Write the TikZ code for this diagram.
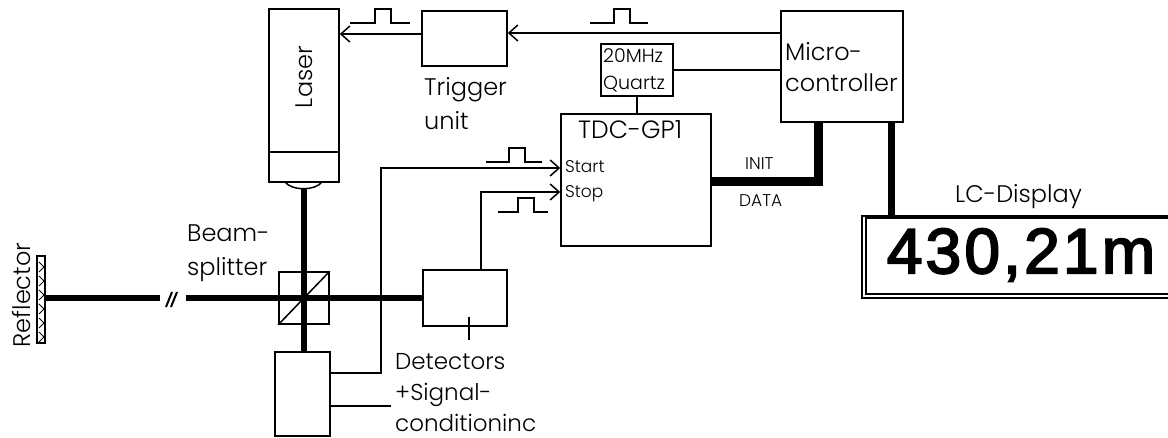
\documentclass[tikz,border=0pt]{standalone}
\usepackage{fontspec}
\setmainfont[UprightFont=* Light]{Poppins}
\newfontfamily\dispfont[LetterSpace=5,FakeBold=3]{Liberation Sans}
\usetikzlibrary{arrows.meta}
\tikzset{
	x=1pt,y=-1pt,
	>={Straight Barb[length=9pt,width=16pt,line width=1.5pt]},
	thin line/.style={line width=1.5pt},
	beam/.style={line width=5.5pt},
	bus/.style={line width=9pt},
	box/.style={draw,line width=1.5pt,inner sep=0pt},
	caption/.style={inner sep=0pt,align=left,anchor=west,font=\fontsize{24}{34}\selectfont},
	pulse/.pic={\draw[thin line] (-#1,7) -- (-8,7) -- (-8,-7) -- (8,-7) -- (8,7) -- ({#1-6},7);},
}
\newcommand{\boxat}[6][]{\node[box,#1,minimum width=#5-#3,minimum height=#6-#4] (#2) at ({(#3+#5)/2},{(#4+#6)/2}) {};}
\begin{document}
\begin{tikzpicture}
	\useasboundingbox (0,0) rectangle (1168,438);
	% boxes
	\boxat{laser}{269}{9}{339}{152}
	\boxat{laserhead}{269}{152}{339}{182}
	\boxat{trigger}{422}{11}{507}{66}
	\boxat{micro}{781}{11}{903}{122}
	\boxat{quartz}{601}{44}{673}{96}
	\boxat{tdc}{561}{114}{711}{246}
	\boxat{detector}{423}{270}{507}{326}
	\boxat{conditioner}{275}{352}{330}{436}
	\boxat{splitter}{279}{272}{329}{324}
	\boxat[line width=2pt]{reflector}{37}{256}{45}{343}
	\boxat{displayout}{862}{216}{1180}{298}
	\boxat{displayin}{866}{218}{1180}{294}

	% texts
	\node[rotate=90,font=\fontsize{24}{28}\selectfont,inner sep=0pt] (lasertext) at (304,77) {Laser};
	\node[rotate=90,font=\fontsize{24}{28}\selectfont,inner sep=0pt] (reflectortext) at (22,295) {Reflector};
	\node[caption] (triggertext) at (424,104) {Trigger\\unit};
	\node[caption] (beamtext) at (187,253) {Beam-\\splitter};
	\node[caption,font=\fontsize{24}{31}\selectfont] (microtext) at (785,67) {Micro-\\controller};
	\node[caption,font=\fontsize{23}{31}\selectfont] (detectortext) at (395,393) {Detectors\\+Signal-\\conditioninc};
	\node[caption,font=\fontsize{25}{34}\selectfont] (tdctext) at (578,130) {TDC-GP1};
	\node[caption,font=\fontsize{19}{27}\selectfont] (quartztext) at (603,70) {20MHz\\Quartz};
	\node[caption,font=\fontsize{17}{20}\selectfont] (starttext) at (565,167) {Start};
	\node[caption,font=\fontsize{17}{20}\selectfont] (stoptext) at (565,194) {Stop};
	\node[caption,font=\fontsize{17}{20}\selectfont] (inittext) at (745,164) {INIT};
	\node[caption,font=\fontsize{17}{20}\selectfont] (datatext) at (739,201) {DATA};
	\node[caption] (lctext) at (955,197) {LC-Display};
	\node[inner sep=0pt,anchor=center,font=\dispfont\fontsize{64}{70}\selectfont] (value) at (1021,255) {430,21m};

	% signals
	\coordinate (startrise) at (381,168);
	\draw[thin line,->] ([yshift=4.5pt]trigger.west) -- ([yshift=46.5pt]laser.east);
	\draw[thin line,->] ([yshift=33.5pt]micro.west) -- ([yshift=5.5pt]trigger.east);
	\draw[thin line] ([yshift=-3.5pt]micro.west) -- (quartz.east);
	\draw[thin line] (quartz.south) -- (quartz.south |- tdc.north);
	\draw[thin line,->] ([yshift=21pt]conditioner.east) -| (startrise) -- ([yshift=12pt]tdc.west);
	\draw[thin line,->] ([xshift=16pt]detector.north) |- ([yshift=-12pt]tdc.west);
	\draw[thin line] (conditioner.east) ++(0,12) -- ++(60,0);
	\draw[thin line] ([xshift=4pt,yshift=10pt]detector.south) -- ([xshift=4pt,yshift=-13pt]detector.south);
	\draw[thin line] (splitter.south west) -- (splitter.north east);

	% pulses
	\pic at (383,16) {pulse=33};
	\pic at (622,16) {pulse=32};
	\pic at (517,155) {pulse=31};
	\pic at (526,205) {pulse=28};

	% beams
	\coordinate (lens) at (304,189);
	\coordinate (breakleft) at (160,298);
	\coordinate (breakright) at (186,298);
	\draw[beam] (lens) -- (lens |- conditioner.north);
	\draw[beam] (reflector.east |- detector.west) -- (breakleft);
	\draw[beam] (breakright) -- (detector.west);
	\draw[line width=2pt] (166,307) -- (172,292) (171,307) -- (177,292);
	\draw[thin line] (285,182) .. controls (292,191) and (315,191) .. (322,182);

	% buses
	\draw[bus] ([yshift=-1.5pt]tdc.east) -| ([xshift=-24pt]micro.south);
	\draw[line width=7pt] ([xshift=49pt]micro.south) -- ([xshift=49pt]micro.south |- displayout.north);

	% reflector filling
	\foreach \i in {262,276,...,332}
		\draw[line width=.8pt] (39,\i) -- (44,\i+5) -- (39,\i+10);
\end{tikzpicture}
\end{document}
